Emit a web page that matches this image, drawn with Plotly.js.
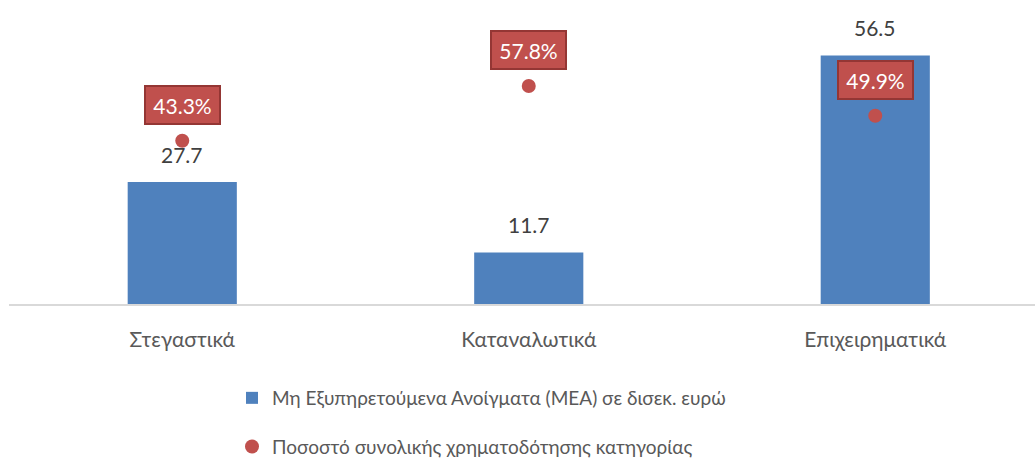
<!DOCTYPE html>
<html>
<head>
<meta charset="utf-8">
<script src="https://cdn.plot.ly/plotly-3.0.1.min.js"></script>
<style>html,body{margin:0;padding:0;background:#fff;}#chart{width:1035px;height:458px;}</style>
</head>
<body>
<div id="chart"></div>
<script>
const categories = ["Στεγαστικά", "Καταναλωτικά", "Επιχειρηματικά"];
const npeValues = [27.7, 11.7, 56.5];
const financingShare = [43.3, 57.8, 49.9];
const barName = "Μη Εξυπηρετούμενα Ανοίγματα (ΜΕΑ) σε δισεκ. ευρώ";
const dotName = "Ποσοστό συνολικής χρηματοδότησης κατηγορίας";

const FONT = "Lato, 'Open Sans', sans-serif";

const barTrace = {
  type: "bar",
  x: categories,
  y: npeValues,
  name: barName,
  width: 0.315,
  marker: {color: "#4F81BD"},
  legendgroup: "a",
  hoverinfo: "skip"
};
const dotTrace = {
  type: "scatter",
  mode: "markers",
  x: categories,
  y: financingShare,
  yaxis: "y2",
  name: dotName,
  marker: {color: "#C0504D", size: 14},
  legendgroup: "b",
  hoverinfo: "skip"
};

const annotations = [];
categories.forEach((c, i) => {
  annotations.push({
    x: c, y: npeValues[i], xref: "x", yref: "y",
    text: npeValues[i].toFixed(1), showarrow: false,
    yshift: 28, font: {family: FONT, size: 21, color: "#404040"}
  });
  annotations.push({
    x: c, y: financingShare[i], xref: "x", yref: "y2",
    text: financingShare[i].toFixed(1) + "%", showarrow: false,
    yshift: 36, font: {family: FONT, size: 21, color: "#FFFFFF"},
    width: 65, height: 28,
    bgcolor: "#C0504D", bordercolor: "#943634", borderwidth: 2, borderpad: 4
  });
});

const layout = {
  width: 1035, height: 458,
  margin: {l: 9, r: 0, t: 40, b: 153.5},
  paper_bgcolor: "#FFFFFF", plot_bgcolor: "#FFFFFF",
  font: {family: FONT, size: 18, color: "#595959"},
  showlegend: true,
  xaxis: {
    type: "category",
    range: [-0.5, 2.461],
    showline: true, linecolor: "#D9D9D9", linewidth: 1.5,
    showgrid: false, zeroline: false, ticks: "",
    ticklabelstandoff: 16,
    tickfont: {family: FONT, size: 21, color: "#595959"},
    fixedrange: true
  },
  yaxis: {range: [0, 60], visible: false, fixedrange: true},
  yaxis2: {range: [0, 70], overlaying: "y", side: "right", visible: false, fixedrange: true},
  legend: {
    orientation: "v",
    xref: "paper", x: (232 - 9) / 1026, xanchor: "left",
    yref: "container", y: 0.1725, yanchor: "top",
    traceorder: "grouped", tracegroupgap: 21,
    font: {family: FONT, size: 19, color: "#595959"},
    itemwidth: 30
  },
  annotations: annotations
};

Plotly.newPlot("chart", [barTrace, dotTrace], layout, {displayModeBar: false, staticPlot: true});
</script>
</body>
</html>
